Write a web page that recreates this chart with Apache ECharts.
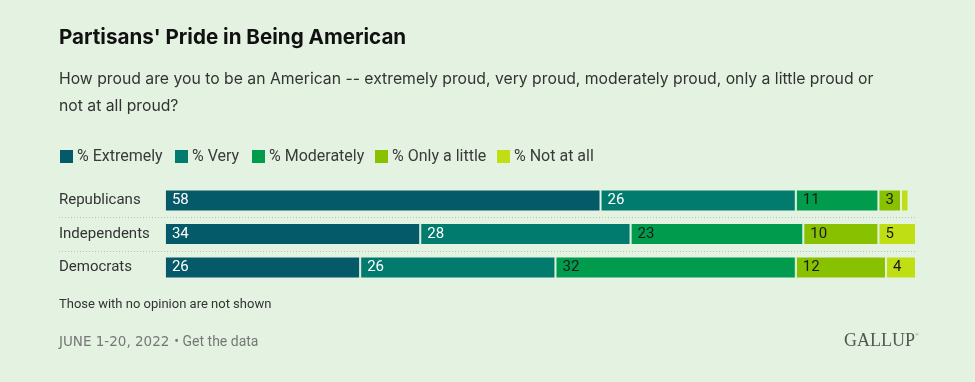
<!DOCTYPE html>
<html>
<head>
<meta charset="utf-8">
<script src="https://cdn.jsdelivr.net/npm/echarts@6/dist/echarts.min.js"></script>
<style>
html,body{margin:0;padding:0;background:#e3f2e1;}
#c{width:975px;height:382px;}
</style>
</head>
<body>
<div id="c"></div>
<script>
var categories = ['Republicans', 'Independents', 'Democrats'];
var seriesNames = ['% Extremely', '% Very', '% Moderately', '% Only a little', '% Not at all'];
var extremely = [58, 34, 26];
var very = [26, 28, 26];
var moderately = [11, 23, 32];
var onlyALittle = [3, 10, 12];
var notAtAll = [1, 5, 4];
var seriesValues = [extremely, very, moderately, onlyALittle, notAtAll];
var colors = ['#045a68', '#017b6e', '#009b4d', '#88c100', '#bfdf14'];
var labelColors = ['#ffffff', '#ffffff', '#1a1a1a', '#1a1a1a', '#1a1a1a'];
var legendLefts = [58, 173, 250, 373, 495];

var chart = echarts.init(document.getElementById('c'));
var FONT = 'Roboto, "Noto Sans", sans-serif';

var series = seriesNames.map(function (name, i) {
  return {
    name: name,
    type: 'bar',
    stack: 'total',
    barWidth: 22,
    yAxisIndex: 0,
    data: seriesValues[i],
    itemStyle: { color: colors[i], borderColor: '#e3f2e1', borderWidth: 1 },
    emphasis: { disabled: true },
    label: {
      show: true,
      position: 'insideLeft',
      distance: 7,
      color: labelColors[i],
      fontFamily: FONT,
      fontSize: 15,
      formatter: function (p) { return p.value >= 2 ? String(p.value) : ''; }
    }
  };
});

var legends = seriesNames.map(function (name, i) {
  return {
    data: [name],
    left: legendLefts[i],
    top: 148,
    itemWidth: 15,
    itemHeight: 15,
    itemGap: 0,
    selectedMode: false,
    icon: 'rect',
    padding: 0,
    textStyle: { fontFamily: FONT, fontSize: 16, color: '#3a3a3a', padding: [0, 0, 0, -2] }
  };
});

chart.setOption({
  backgroundColor: '#e3f2e1',
  animation: false,
  color: colors,
  title: [
    {
      text: "Partisans' Pride in Being American",
      left: 59, top: 27, padding: 0,
      textStyle: { fontFamily: 'Inter, "Noto Sans", sans-serif', fontWeight: 'bold', fontSize: 20.6, color: '#111' }
    },
    {
      text: 'How proud are you to be an American -- extremely proud, very proud, moderately proud, only a little proud or\nnot at all proud?',
      left: 59, top: 66, padding: 0,
      textStyle: { fontFamily: 'Inter, "Noto Sans", sans-serif', fontWeight: 'normal', fontSize: 15.75, lineHeight: 27, color: '#333' }
    },
    {
      text: 'Those with no opinion are not shown',
      left: 59, top: 298, padding: 0,
      textStyle: { fontFamily: FONT, fontWeight: 'normal', fontSize: 13, color: '#333' }
    },
    {
      text: '{d|JUNE 1-20, 2022} {g|\u2022 Get the data}',
      left: 59, top: 333, padding: 0,
      textStyle: {
        fontWeight: 'normal',
        rich: {
          d: { fontFamily: '"DejaVu Sans", sans-serif', fontWeight: 'normal', fontSize: 13.5, color: '#777' },
          g: { fontFamily: FONT, fontWeight: 'normal', fontSize: 14, color: '#777' }
        }
      }
    },
    {
      text: '{a|GALLUP}{r|\u00ae}',
      left: 844, top: 332, padding: 0,
      textStyle: {
        fontWeight: 'normal',
        rich: {
          a: { fontFamily: '"Liberation Serif", "DejaVu Serif", serif', fontWeight: 'normal', fontSize: 18, color: '#555' },
          r: { fontFamily: '"Liberation Serif", serif', fontWeight: 'normal', fontSize: 5, color: '#777', verticalAlign: 'top', padding: [0, 0, 8, 0] }
        }
      }
    }
  ],
  legend: legends,
  grid: { left: 59, right: 59, top: 183.75, height: 100.5, containLabel: false },
  xAxis: {
    type: 'value', min: -14.1, max: 100,
    axisLabel: { show: false }, axisLine: { show: false }, axisTick: { show: false }, splitLine: { show: false }
  },
  yAxis: [
    {
      type: 'category',
      inverse: true,
      data: categories,
      axisLine: { show: false },
      axisTick: { show: false },
      axisLabel: { inside: true, margin: 0, fontFamily: FONT, fontSize: 15, color: '#333' },
      splitLine: { show: false }
    },
    {
      type: 'value',
      position: 'right',
      inverse: true,
      min: 0,
      max: categories.length,
      interval: 1,
      axisLine: { show: false },
      axisTick: { show: false },
      axisLabel: { show: false },
      splitLine: {
        show: true,
        showMinLine: false,
        showMaxLine: false,
        lineStyle: { type: [1, 2], color: '#b3c3b1', width: 1 }
      }
    }
  ],
  series: series
});
</script>
</body>
</html>
